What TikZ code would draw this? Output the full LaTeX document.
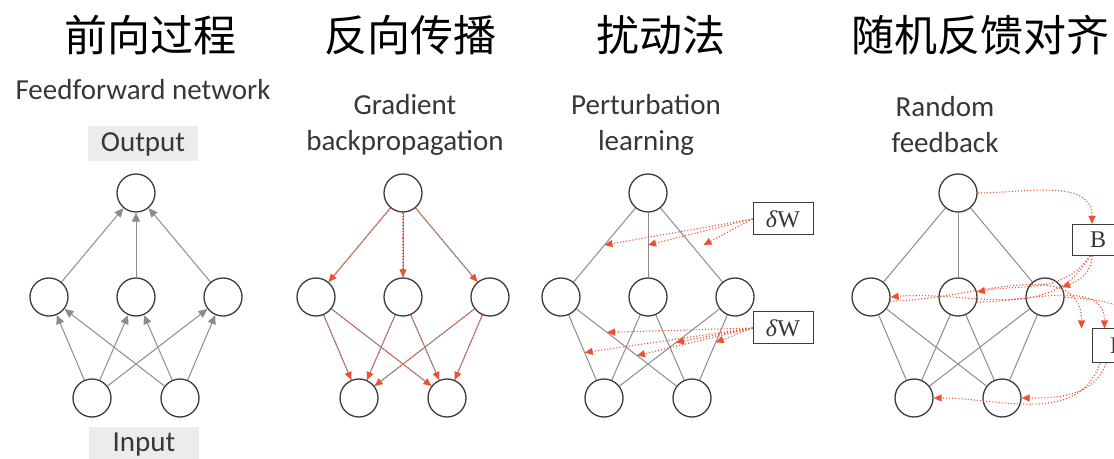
\documentclass[tikz,border=0pt]{standalone}
\usepackage{fontspec}
\setmainfont{Carlito}
\newfontfamily\cjk{Noto Sans CJK SC}
\newfontfamily\serif{Liberation Serif}
\usepackage{tikz}
\usetikzlibrary{arrows.meta, calc, positioning}
\definecolor{rojoFB}{RGB}{238,80,50}
\definecolor{grisArista}{RGB}{140,140,140}
\definecolor{grisNodo}{RGB}{60,60,60}
\definecolor{grisCaja}{RGB}{236,236,236}
\definecolor{grisTexto}{RGB}{55,55,55}

\begin{document}
\begin{tikzpicture}[x=1pt, y=1pt,
  neuron/.style={circle, draw=grisNodo, fill=white, line width=1.3pt,
                 minimum size=38pt, inner sep=0pt},
  edge/.style={draw=grisArista, line width=1pt},
  fwd/.style={edge, -{Triangle[length=9pt,width=8pt]}},
  bp/.style={draw=rojoFB, dotted, line width=1.1pt,
             -{Triangle[length=8pt,width=7pt]}},
  wbox/.style={rectangle, draw=grisNodo, fill=white, line width=1pt,
               minimum width=60pt, minimum height=32pt, text=grisTexto,
               font=\serif\fontsize{24}{24}\selectfont},
  gbox/.style={rectangle, fill=grisCaja, minimum width=110pt, minimum height=35pt,
               text=grisTexto, font=\fontsize{29}{29}\selectfont},
  lbl/.style={text=grisTexto, align=center, font=\fontsize{29}{36}\selectfont},
  ttl/.style={font=\cjk\fontsize{43}{43}\selectfont}
]
  \useasboundingbox (0,0) rectangle (1114,458);
  \clip (0,0) rectangle (1114,458);

  % titles
  \node[ttl] (t1) at (150,423) {前向过程};
  \node[ttl] (t2) at (410,423) {反向传播};
  \node[ttl] (t3) at (661,423) {扰动法};
  \node[ttl] (t4) at (980,423) {随机反馈对齐};

  \node[lbl] (l1) at (143,368) {Feedforward network};
  \node[lbl] (l2) at (405,333) {Gradient\\backpropagation};
  \node[lbl] (l3) at (646,333) {Perturbation\\learning};
  \node[lbl] (l4) at (945,333) {Random\\feedback};

  \node[gbox] (out) at (143,314) {Output};
  \node[gbox] (in) at (144,13) {Input};

  % the four networks
  \foreach \p/\cx in {f/136,b/403,p/648,r/958}{
    \node[neuron] (\p-o) at (\cx,265) {};
    \node[neuron] (\p-h1) at (\cx-87,161) {};
    \node[neuron] (\p-h2) at (\cx,161) {};
    \node[neuron] (\p-h3) at (\cx+87,161) {};
    \node[neuron] (\p-i1) at (\cx-44,60) {};
    \node[neuron] (\p-i2) at (\cx+44,60) {};
  }

  % feedforward
  \foreach \h in {1,2,3}{
    \draw[fwd] (f-h\h) -- (f-o);
    \foreach \i in {1,2} \draw[fwd] (f-i\i) -- (f-h\h);
  }

  % backpropagation
  \foreach \h in {1,2,3}{
    \draw[edge] (b-o) -- (b-h\h);
    \draw[bp] (b-o) -- (b-h\h);
    \foreach \i in {1,2}{
      \draw[edge] (b-h\h) -- (b-i\i);
      \draw[bp] (b-h\h) -- (b-i\i);
    }
  }

  % plain edges
  \foreach \p in {p,r}{
    \foreach \h in {1,2,3}{
      \draw[edge] (\p-o) -- (\p-h\h);
      \foreach \i in {1,2} \draw[edge] (\p-h\h) -- (\p-i\i);
    }
  }

  % perturbation
  \node[wbox] (dw1) at (783,239) {\textit{δ}W};
  \node[wbox] (dw2) at (783,130) {\textit{δ}W};
  \coordinate (pa) at ($(p-o)!0.5!(p-h1)$);
  \coordinate (pb) at ($(p-o)!0.5!(p-h2)$);
  \coordinate (pc) at ($(p-o)!0.5!(p-h3)+(12,0)$);
  \foreach \q in {pa,pb,pc} \draw[bp] (dw1.west) -- (\q);
  \coordinate (qa) at ($(p-h1)!0.35!(p-i2)$);
  \coordinate (qb) at ($(p-h1)!0.55!(p-i1)$);
  \coordinate (qc) at ($(p-h1)!0.58!(p-i2)$);
  \coordinate (qd) at ($(p-h3)!0.45!(p-i1)$);
  \coordinate (qe) at ($(p-h3)!0.45!(p-i2)$);
  \foreach \q in {qa,qb,qc,qd,qe} \draw[bp] (dw2.west) -- (\q);

  % random feedback
  \node[wbox, minimum width=52pt, minimum height=31pt] (rb1) at (1098,218) {B};
  \node[wbox, minimum width=52pt, minimum height=34pt] (rb2) at (1118,112) {B};
  \draw[bp] (r-o.east) to[out=0, in=90] ([xshift=-6pt]rb1.north);
  \draw[bp] ([xshift=-8pt]rb1.south) to[out=-120, in=5] (r-h1.east);
  \draw[bp] ([xshift=-8pt]rb1.south) to[out=-125, in=10] (r-h2.15);
  \draw[bp] ([xshift=-6pt]rb1.south) to[out=-90, in=20] (r-h3.30);
  \draw[bp] (r-h1.-12) to[out=0, in=90] ([xshift=-10pt]rb2.north west);
  \draw[bp] (r-h2.-15) to[out=0, in=90] ([xshift=13pt]rb2.north west);
  \draw[bp] (r-h3.east) to[out=-5, in=90] ([xshift=10pt]rb2.north);
  \draw[bp] ([xshift=-18pt]rb2.south) to[out=-110, in=0] (r-i1.east);
  \draw[bp] ([xshift=-12pt]rb2.south) to[out=-110, in=0] (r-i2.east);
\end{tikzpicture}
\end{document}
